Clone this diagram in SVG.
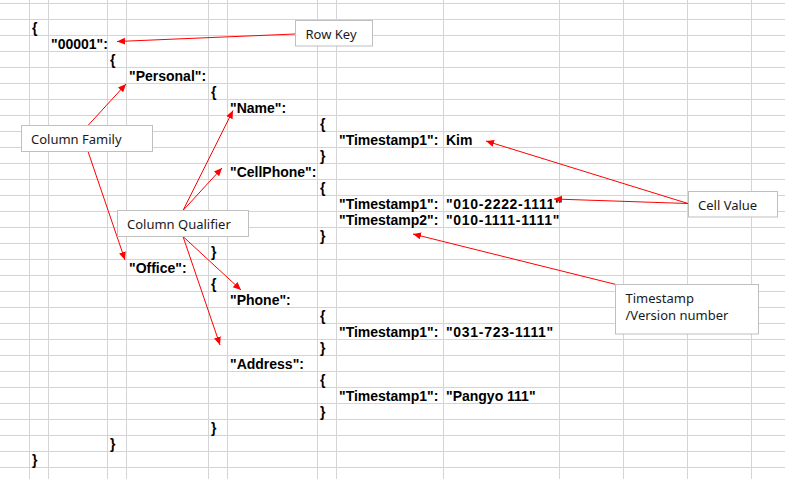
<svg xmlns="http://www.w3.org/2000/svg" width="785" height="479" viewBox="0 0 785 479">
<style>
.grid line{stroke:#d4d4d4;stroke-width:1}
.t{font-family:"Liberation Sans",Arial,sans-serif;font-size:14px;font-weight:bold;fill:#000}
.num{letter-spacing:0.7px}
.box rect{fill:#fff;stroke:#bfbfbf;stroke-width:1}
.box text{font-family:"Noto Sans","Open Sans",sans-serif;font-size:13px;fill:#1a1a1a}
.conn line{stroke:#ff0000;stroke-width:1;marker-end:url(#ah)}
</style>
<defs>
<marker id="ah" markerUnits="userSpaceOnUse" markerWidth="9" markerHeight="8" refX="8" refY="3.5" orient="auto"><path d="M0,0 L8,3.5 L0,7 z" fill="#ff0000"/></marker>
</defs>
<rect width="785" height="479" fill="#fff"/>
<g class="grid">
<line x1="29.5" y1="0" x2="29.5" y2="479"/><line x1="48.5" y1="0" x2="48.5" y2="479"/><line x1="107.5" y1="0" x2="107.5" y2="479"/><line x1="126.5" y1="0" x2="126.5" y2="479"/><line x1="208.5" y1="0" x2="208.5" y2="479"/><line x1="227.5" y1="0" x2="227.5" y2="479"/><line x1="317.5" y1="0" x2="317.5" y2="479"/><line x1="336.5" y1="0" x2="336.5" y2="479"/><line x1="443.5" y1="0" x2="443.5" y2="479"/><line x1="559.5" y1="0" x2="559.5" y2="479"/><line x1="623.5" y1="0" x2="623.5" y2="479"/><line x1="687.5" y1="0" x2="687.5" y2="479"/><line x1="751.5" y1="0" x2="751.5" y2="479"/>
<line x1="0" y1="3.5" x2="785" y2="3.5"/><line x1="0" y1="19.5" x2="785" y2="19.5"/><line x1="0" y1="35.5" x2="785" y2="35.5"/><line x1="0" y1="51.5" x2="785" y2="51.5"/><line x1="0" y1="67.5" x2="785" y2="67.5"/><line x1="0" y1="83.5" x2="785" y2="83.5"/><line x1="0" y1="99.5" x2="785" y2="99.5"/><line x1="0" y1="115.5" x2="785" y2="115.5"/><line x1="0" y1="131.5" x2="785" y2="131.5"/><line x1="0" y1="147.5" x2="785" y2="147.5"/><line x1="0" y1="163.5" x2="785" y2="163.5"/><line x1="0" y1="179.5" x2="785" y2="179.5"/><line x1="0" y1="195.5" x2="785" y2="195.5"/><line x1="0" y1="211.5" x2="785" y2="211.5"/><line x1="0" y1="227.5" x2="785" y2="227.5"/><line x1="0" y1="243.5" x2="785" y2="243.5"/><line x1="0" y1="259.5" x2="785" y2="259.5"/><line x1="0" y1="275.5" x2="785" y2="275.5"/><line x1="0" y1="291.5" x2="785" y2="291.5"/><line x1="0" y1="307.5" x2="785" y2="307.5"/><line x1="0" y1="323.5" x2="785" y2="323.5"/><line x1="0" y1="339.5" x2="785" y2="339.5"/><line x1="0" y1="355.5" x2="785" y2="355.5"/><line x1="0" y1="371.5" x2="785" y2="371.5"/><line x1="0" y1="387.5" x2="785" y2="387.5"/><line x1="0" y1="403.5" x2="785" y2="403.5"/><line x1="0" y1="419.5" x2="785" y2="419.5"/><line x1="0" y1="435.5" x2="785" y2="435.5"/><line x1="0" y1="451.5" x2="785" y2="451.5"/><line x1="0" y1="467.5" x2="785" y2="467.5"/>
</g>
<g id="json" class="t">
<text x="32" y="33">{</text>
<text x="51" y="49">"00001":</text>
<text x="110" y="65">{</text>
<text x="129" y="81">"Personal":</text>
<text x="211" y="97">{</text>
<text x="230" y="113">"Name":</text>
<text x="320" y="129">{</text>
<text x="339" y="145">"Timestamp1":</text><text x="446" y="145">Kim</text>
<text x="320" y="161">}</text>
<text x="230" y="177">"CellPhone":</text>
<text x="320" y="193">{</text>
<text x="339" y="209">"Timestamp1":</text><text class="num" x="446" y="209">"010-2222-1111"</text>
<text x="339" y="225">"Timestamp2":</text><text class="num" x="446" y="225">"010-1111-1111"</text>
<text x="320" y="241">}</text>
<text x="211" y="257">}</text>
<text x="129" y="273">"Office":</text>
<text x="211" y="289">{</text>
<text x="230" y="305">"Phone":</text>
<text x="320" y="321">{</text>
<text x="339" y="337">"Timestamp1":</text><text class="num" x="446" y="337">"031-723-1111"</text>
<text x="320" y="353">}</text>
<text x="230" y="369">"Address":</text>
<text x="320" y="385">{</text>
<text x="339" y="401">"Timestamp1":</text><text x="446" y="401">"Pangyo 111"</text>
<text x="320" y="417">}</text>
<text x="211" y="433">}</text>
<text x="110" y="449">}</text>
<text x="32" y="465">}</text>
</g>
<g id="connectors" class="conn">
<line x1="295" y1="34" x2="117" y2="41.5"/>
<line x1="88" y1="125.5" x2="126" y2="84"/>
<line x1="88" y1="151.5" x2="125" y2="260"/>
<line x1="183" y1="210.5" x2="233" y2="110.5"/>
<line x1="183" y1="210.5" x2="222" y2="168"/>
<line x1="183" y1="236.5" x2="241" y2="290"/>
<line x1="183" y1="236.5" x2="220" y2="345"/>
<line x1="688" y1="203.5" x2="486" y2="141"/>
<line x1="688" y1="203.5" x2="554" y2="199"/>
<line x1="616" y1="284.5" x2="413" y2="234"/>
</g>
<g id="rowkey" class="box"><rect x="295.5" y="20.5" width="77" height="25.5"/><text x="305.5" y="39">Row Key</text></g>
<g id="colfamily" class="box"><rect x="21.5" y="125.5" width="131" height="26"/><text x="31" y="144">Column Family</text></g>
<g id="colqualifier" class="box"><rect x="117.5" y="210.5" width="131" height="26"/><text x="127" y="228.5">Column Qualifier</text></g>
<g id="cellvalue" class="box"><rect x="688.5" y="191.5" width="89" height="25.5"/><text x="698" y="209.5">Cell Value</text></g>
<g id="timestamp" class="box"><rect x="615.5" y="284.5" width="143" height="49.5"/><text x="625.5" y="302.5">Timestamp</text><text x="625.5" y="320">/Version number</text></g>
</svg>
